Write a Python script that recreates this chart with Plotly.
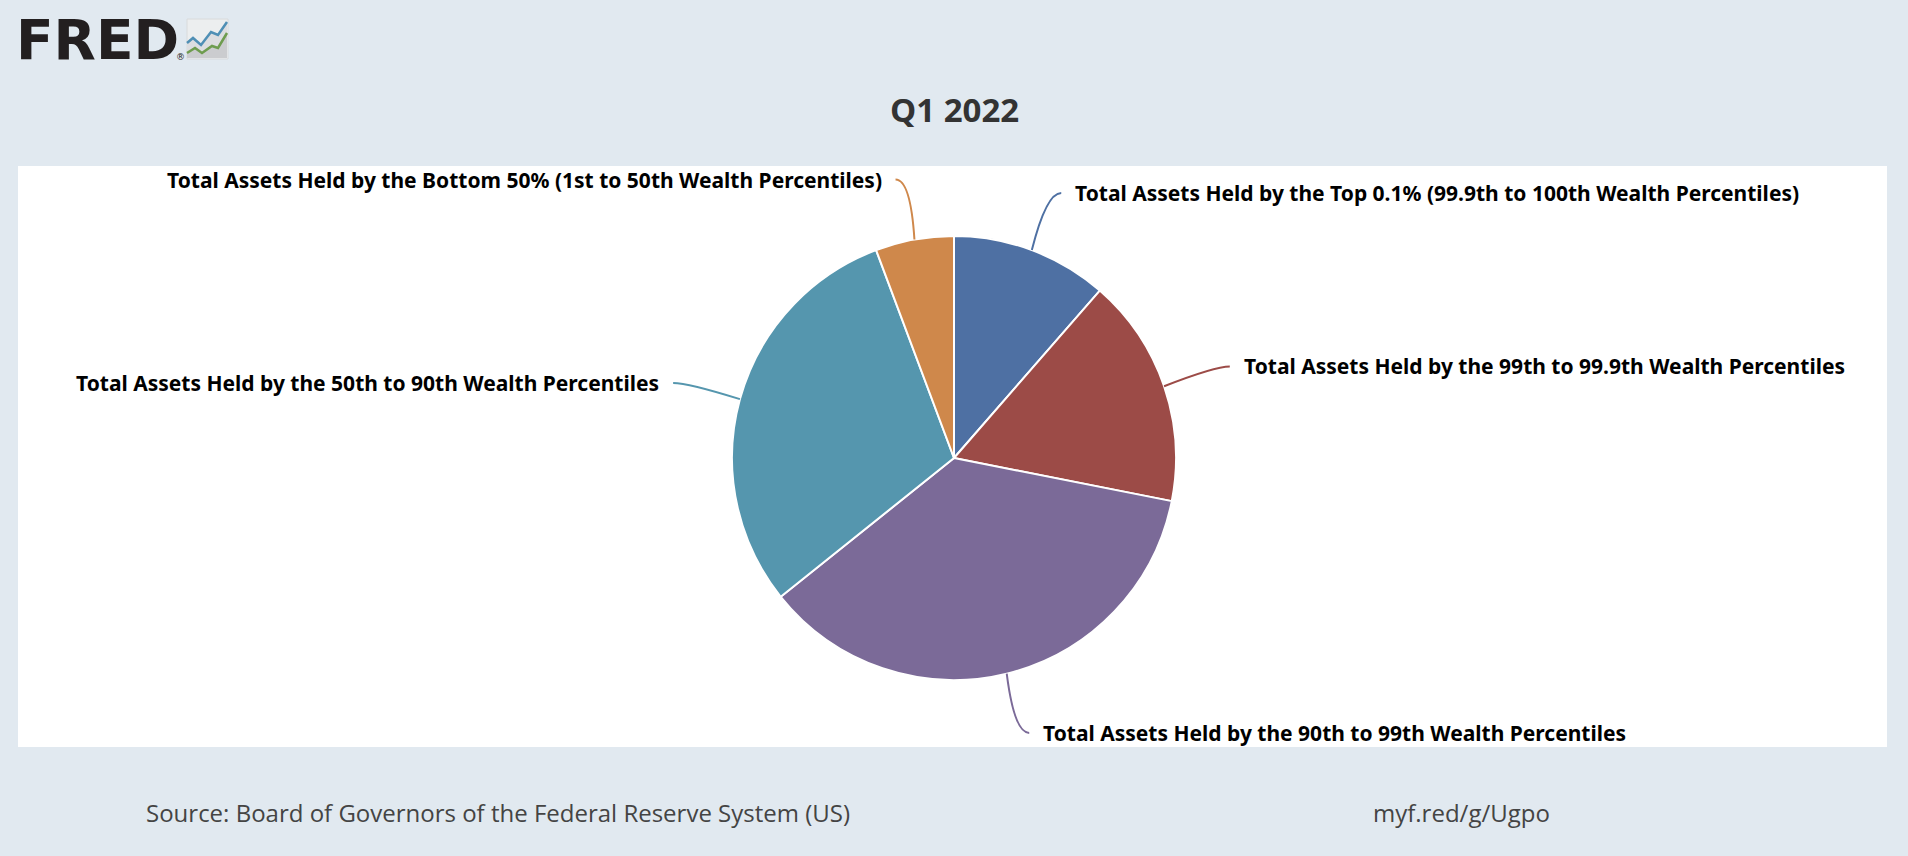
import math
import plotly.graph_objects as go

# Q1 2022 total assets by wealth group (millions of dollars, approx.)
labels = [
    "Total Assets Held by the Top 0.1% (99.9th to 100th Wealth Percentiles)",
    "Total Assets Held by the 99th to 99.9th Wealth Percentiles",
    "Total Assets Held by the 90th to 99th Wealth Percentiles",
    "Total Assets Held by the 50th to 90th Wealth Percentiles",
    "Total Assets Held by the Bottom 50% (1st to 50th Wealth Percentiles)",
]
values = [18450000, 27030000, 58470000, 48600000, 9230000]
colors = ["#4e70a3", "#9c4b47", "#7b6a98", "#5596ae", "#cf884b"]

W, H = 1908, 856
BG = "#e1e9f0"

# pie geometry in pixels
cx, cy, r = 954, 458, 222
label_r = 283


def px(x):
    return x / W


def py(y):
    return 1 - y / H


fig = go.Figure()
fig.add_trace(go.Pie(
    labels=labels,
    values=values,
    sort=False,
    direction="clockwise",
    rotation=0,
    textinfo="none",
    marker=dict(colors=colors, line=dict(color="white", width=2)),
    domain=dict(x=[px(cx - r), px(cx + r)], y=[py(cy + r), py(cy - r)]),
    showlegend=False,
    hovertemplate="%{label}<br>%{value:,}<extra></extra>",
))

shapes = [
    # white plot area
    dict(type="rect", xref="paper", yref="paper", layer="below",
         x0=px(18), x1=px(1887), y0=py(747), y1=py(166),
         fillcolor="white", line=dict(width=0)),
]
annotations = []

# data labels with connectors, placed from the slice mid-angles
total = sum(values)
cum = 0
for lab, val, col in zip(labels, values, colors):
    mid = (cum + val / 2) / total * 2 * math.pi
    cum += val
    sx, sy = math.sin(mid), -math.cos(mid)
    side = 1 if sx >= 0 else -1
    x0, y0 = cx + r * sx, cy + r * sy
    x2, y2 = cx + label_r * sx, cy + label_r * sy
    ex = x2 + 8 * side
    cxp = x2 - 7 * side
    path = "M {:.5f},{:.5f} Q {:.5f},{:.5f} {:.5f},{:.5f}".format(
        px(x0), py(y0), px(cxp), py(y2), px(ex), py(y2))
    shapes.append(dict(type="path", xref="paper", yref="paper", path=path,
                       line=dict(color=col, width=2)))
    annotations.append(dict(
        xref="paper", yref="paper", x=px(ex + 12 * side), y=py(y2),
        xanchor="left" if side > 0 else "right", yanchor="middle",
        text="<b>" + lab + "</b>", showarrow=False,
        font=dict(family="Noto Sans", size=21, color="black"),
    ))

# title
annotations.append(dict(
    xref="paper", yref="paper", x=px(954), y=py(110), xanchor="center",
    yanchor="middle", text="<b>Q1 2022</b>", showarrow=False,
    font=dict(family="Open Sans", size=33, color="#333333"),
))

# footer
annotations.append(dict(
    xref="paper", yref="paper", x=px(144), y=py(812), xanchor="left",
    yanchor="middle", showarrow=False,
    text="Source: Board of Governors of the Federal Reserve System (US)",
    font=dict(family="Open Sans", size=24, color="#444444"),
))
annotations.append(dict(
    xref="paper", yref="paper", x=px(1371), y=py(812), xanchor="left",
    yanchor="middle", showarrow=False, text="myf.red/g/Ugpo",
    font=dict(family="Open Sans", size=24, color="#444444"),
))

# FRED logo
annotations.append(dict(
    xref="paper", yref="paper", x=px(14), y=py(40), xanchor="left",
    yanchor="middle", showarrow=False, text="<b>FRED</b>",
    font=dict(family="DejaVu Sans", size=55, color="#231f20"),
))
annotations.append(dict(
    xref="paper", yref="paper", x=px(180), y=py(57), xanchor="center",
    yanchor="middle", showarrow=False, text="®",
    font=dict(family="DejaVu Sans", size=9, color="#231f20"),
))


def pts(coords):
    return " L ".join("{:.5f},{:.5f}".format(px(a), py(b)) for a, b in coords)


shapes.append(dict(type="rect", xref="paper", yref="paper",
                   x0=px(187), x1=px(228), y0=py(59), y1=py(19),
                   fillcolor="#eceeef", line=dict(color="#d8dadc", width=1)))
green = [(187, 53), (195, 48), (202, 53), (212, 46), (218, 48), (227, 33)]
blue = [(187, 43), (193, 38), (201, 45), (211, 32), (218, 35), (227, 22)]
shapes.append(dict(type="path", xref="paper", yref="paper",
                   path="M " + pts(blue + [(227, 58), (187, 58)]) + " Z",
                   fillcolor="#dcdde0", line=dict(width=0)))
shapes.append(dict(type="path", xref="paper", yref="paper",
                   path="M " + pts(green + [(227, 58), (187, 58)]) + " Z",
                   fillcolor="#cbcccf", line=dict(width=0)))
shapes.append(dict(type="path", xref="paper", yref="paper",
                   path="M " + pts(blue), line=dict(color="#4f8fb5", width=2.5)))
shapes.append(dict(type="path", xref="paper", yref="paper",
                   path="M " + pts(green), line=dict(color="#6e9c4f", width=2.5)))

fig.update_layout(
    width=W, height=H,
    margin=dict(l=0, r=0, t=0, b=0),
    paper_bgcolor=BG, plot_bgcolor=BG,
    shapes=shapes, annotations=annotations,
)

fig.write_html("out.html", config={"displayModeBar": False},
               post_script="document.body.style.margin='0';")
